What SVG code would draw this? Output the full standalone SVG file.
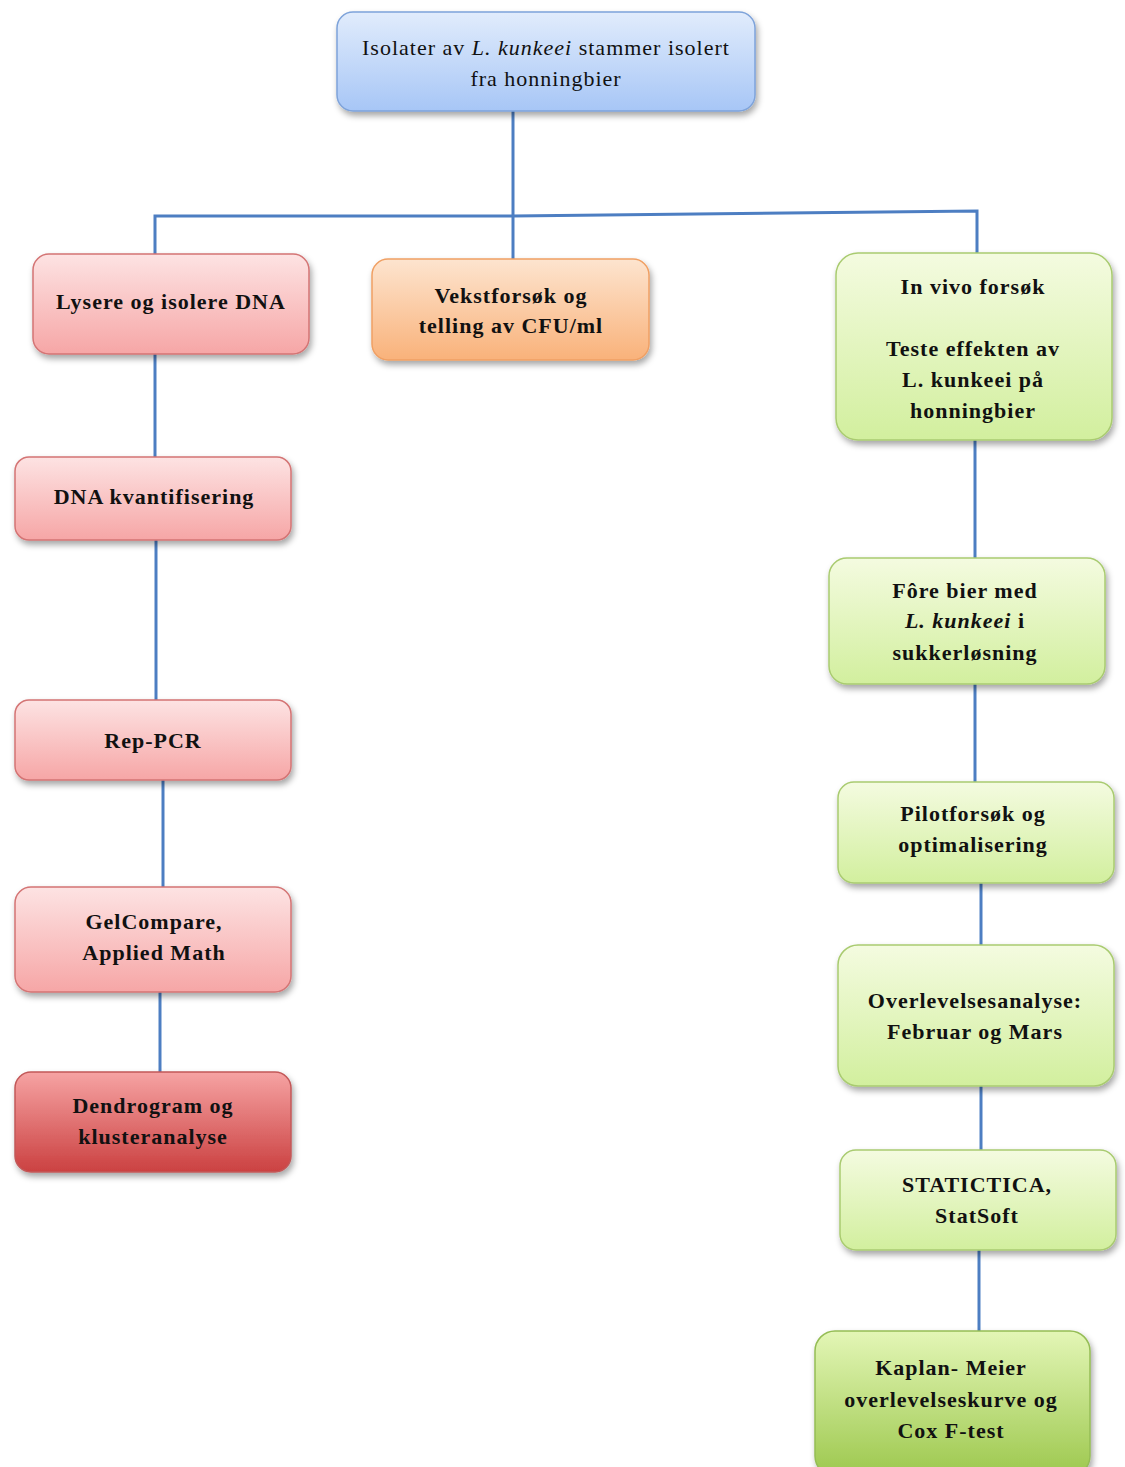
<svg xmlns="http://www.w3.org/2000/svg" width="1125" height="1467" viewBox="0 0 1125 1467">
<defs>
<linearGradient id="gBlue" x1="0" y1="0" x2="0" y2="1"><stop offset="0" stop-color="#e1ecfc"/><stop offset="1" stop-color="#a7c6f6"/></linearGradient>
<linearGradient id="gPink" x1="0" y1="0" x2="0" y2="1"><stop offset="0" stop-color="#fde3e3"/><stop offset="1" stop-color="#f6a6a6"/></linearGradient>
<linearGradient id="gRed" x1="0" y1="0" x2="0" y2="1"><stop offset="0" stop-color="#f6a3a3"/><stop offset="1" stop-color="#cb4141"/></linearGradient>
<linearGradient id="gOrange" x1="0" y1="0" x2="0" y2="1"><stop offset="0" stop-color="#fde4cf"/><stop offset="1" stop-color="#f9b27a"/></linearGradient>
<linearGradient id="gGreen" x1="0" y1="0" x2="0" y2="1"><stop offset="0" stop-color="#f4fbe0"/><stop offset="1" stop-color="#d2ef9e"/></linearGradient>
<linearGradient id="gDGreen" x1="0" y1="0" x2="0" y2="1"><stop offset="0" stop-color="#e3f6b6"/><stop offset="1" stop-color="#9dc84e"/></linearGradient>
<filter id="sh" x="-10%" y="-10%" width="125%" height="130%"><feDropShadow dx="2" dy="4" stdDeviation="3" flood-color="#000" flood-opacity="0.35"/></filter>
</defs>
<style>
.conn{stroke:#4d7ec2;stroke-width:3;fill:none}
.box{filter:url(#sh);stroke-width:1.5}
.blue{fill:url(#gBlue);stroke:#7ea3da}
.pink{fill:url(#gPink);stroke:#d47474}
.red{fill:url(#gRed);stroke:#c25858}
.orange{fill:url(#gOrange);stroke:#f0a064}
.green{fill:url(#gGreen);stroke:#a9cb70}
.dgreen{fill:url(#gDGreen);stroke:#95bd55}
text{font-family:"Liberation Serif","Times New Roman",serif;font-size:22px;fill:#111;text-anchor:middle;letter-spacing:1px}
.b{font-weight:bold}
</style>
<g id="connectors">
<path class="conn" d="M513,111 V216"/>
<path class="conn" d="M155,255 V216 L513,216 L977,211 V255"/>
<path class="conn" d="M513,216 V260"/>
<path class="conn" d="M155,354 V458"/>
<path class="conn" d="M156,540 V700"/>
<path class="conn" d="M163,780 V887"/>
<path class="conn" d="M160,992 V1072"/>
<path class="conn" d="M975,440 V558"/>
<path class="conn" d="M975,684 V782"/>
<path class="conn" d="M981,883 V945"/>
<path class="conn" d="M981,1086 V1150"/>
<path class="conn" d="M979,1250 V1332"/>
</g>
<g id="n_top"><rect class="box blue" x="337" y="12" width="418" height="99" rx="16"/>
<text x="546" y="55">Isolater av <tspan font-style="italic">L. kunkeei</tspan> stammer isolert</text><text x="546" y="86">fra honningbier</text></g>
<g id="n_lysere"><rect class="box pink" x="33" y="254" width="276" height="100" rx="16"/>
<text class="b" x="171" y="309">Lysere og isolere DNA</text></g>
<g id="n_vekst"><rect class="box orange" x="372" y="259" width="277" height="101" rx="16"/>
<text class="b" x="511" y="303">Vekstforsøk og</text><text class="b" x="511" y="333">telling av CFU/ml</text></g>
<g id="n_invivo"><rect class="box green" x="836" y="253" width="276" height="187" rx="22"/>
<text class="b" x="973" y="294">In vivo forsøk</text><text class="b" x="973" y="356">Teste effekten av</text><text class="b" x="973" y="387">L. kunkeei på</text><text class="b" x="973" y="418">honningbier</text></g>
<g id="n_dnak"><rect class="box pink" x="15" y="457" width="276" height="83" rx="14"/>
<text class="b" x="154" y="504">DNA kvantifisering</text></g>
<g id="n_rep"><rect class="box pink" x="15" y="700" width="276" height="80" rx="14"/>
<text class="b" x="153" y="748">Rep-PCR</text></g>
<g id="n_gel"><rect class="box pink" x="15" y="887" width="276" height="105" rx="16"/>
<text class="b" x="154" y="929">GelCompare,</text><text class="b" x="154" y="960">Applied Math</text></g>
<g id="n_dendro"><rect class="box red" x="15" y="1072" width="276" height="100" rx="16"/>
<text class="b" x="153" y="1113">Dendrogram og</text><text class="b" x="153" y="1144">klusteranalyse</text></g>
<g id="n_fore"><rect class="box green" x="829" y="558" width="276" height="126" rx="18"/>
<text class="b" x="965" y="598">Fôre bier med</text><text class="b" x="965" y="628"><tspan font-style="italic">L. kunkeei</tspan> i</text><text class="b" x="965" y="660">sukkerløsning</text></g>
<g id="n_pilot"><rect class="box green" x="838" y="782" width="276" height="101" rx="16"/>
<text class="b" x="973" y="821">Pilotforsøk og</text><text class="b" x="973" y="852">optimalisering</text></g>
<g id="n_overlev"><rect class="box green" x="838" y="945" width="276" height="141" rx="20"/>
<text class="b" x="975" y="1008">Overlevelsesanalyse:</text><text class="b" x="975" y="1039">Februar og Mars</text></g>
<g id="n_stat"><rect class="box green" x="840" y="1150" width="276" height="100" rx="16"/>
<text class="b" x="977" y="1192">STATICTICA,</text><text class="b" x="977" y="1223">StatSoft</text></g>
<g id="n_kaplan"><rect class="box dgreen" x="815" y="1331" width="275" height="145" rx="20"/>
<text class="b" x="951" y="1375">Kaplan- Meier</text><text class="b" x="951" y="1407">overlevelseskurve og</text><text class="b" x="951" y="1438">Cox F-test</text></g>
</svg>
